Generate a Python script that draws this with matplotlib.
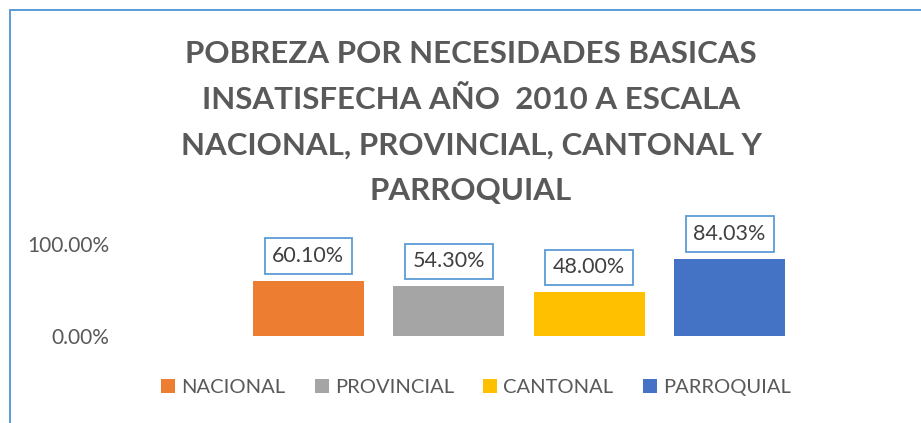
import matplotlib
matplotlib.use("Agg")
import matplotlib.pyplot as plt
from matplotlib.patches import Rectangle
from matplotlib.ticker import FuncFormatter

# Data
categories = ["NACIONAL", "PROVINCIAL", "CANTONAL", "PARROQUIAL"]
values = [0.6010, 0.5430, 0.4800, 0.8403]
colors = ["#ED7D31", "#A5A5A5", "#FFC000", "#4472C4"]
title = ("POBREZA POR NECESIDADES BASICAS\n"
         "INSATISFECHA AÑO  2010 A ESCALA\n"
         "NACIONAL, PROVINCIAL, CANTONAL Y\n"
         "PARROQUIAL")

FONT = "Lato"
TEXT_GRAY = "#595959"
LABEL_GRAY = "#404040"
BORDER = "#5B9BD5"

W, H = 921, 423
fig = plt.figure(figsize=(W / 100, H / 100), dpi=100)
fig.patch.set_facecolor("white")

# chart frame (only top and left edges fall inside the image)
fig.patches.append(Rectangle((9.5 / W, -0.2), 1.2, (H - 10.5) / H + 0.2,
                             transform=fig.transFigure, fill=False,
                             edgecolor=BORDER, linewidth=1.4, clip_on=False))

ax = fig.add_axes([120 / W, (H - 336) / H, 798 / W, 92 / H])
width = 0.79
for i, (cat, val, col) in enumerate(zip(categories, values, colors)):
    ax.bar(i, val, width=width, color=col, label=cat, zorder=2)
    ax.annotate(f"{val * 100:.2f}%", xy=(i, val), xytext=(0, 10.5),
                textcoords="offset points", ha="center", va="bottom",
                fontsize=15.5, family=FONT, color=LABEL_GRAY,
                bbox=dict(boxstyle="square,pad=0.36", facecolor="white",
                          edgecolor=BORDER, linewidth=1.3),
                annotation_clip=False)

ax.set_xlim(-1.342, 4.342)
ax.set_ylim(0, 1)
ax.set_yticks([0, 1])
ax.yaxis.set_major_formatter(FuncFormatter(lambda v, _: f"{v * 100:.2f}%"))
ax.set_xticks([])
ax.tick_params(axis="y", length=0, pad=7.5, labelsize=15, labelcolor=TEXT_GRAY)
for lbl in ax.get_yticklabels():
    lbl.set_family(FONT)
for s in ax.spines.values():
    s.set_visible(False)

fig.text(471 / W, (H - 122.5) / H, title, ha="center", va="center",
         fontsize=22.5, fontweight="bold", family=FONT, color=TEXT_GRAY,
         linespacing=1.77)

leg = fig.legend(loc="center", bbox_to_anchor=(476 / W, (H - 387.5) / H),
                 ncol=4, frameon=False, handlelength=0.7, handleheight=0.7,
                 handletextpad=0.3, columnspacing=1.45,
                 prop={"family": FONT, "size": 14.5})
for t in leg.get_texts():
    t.set_color(TEXT_GRAY)

fig.savefig("out.png", dpi=100)
